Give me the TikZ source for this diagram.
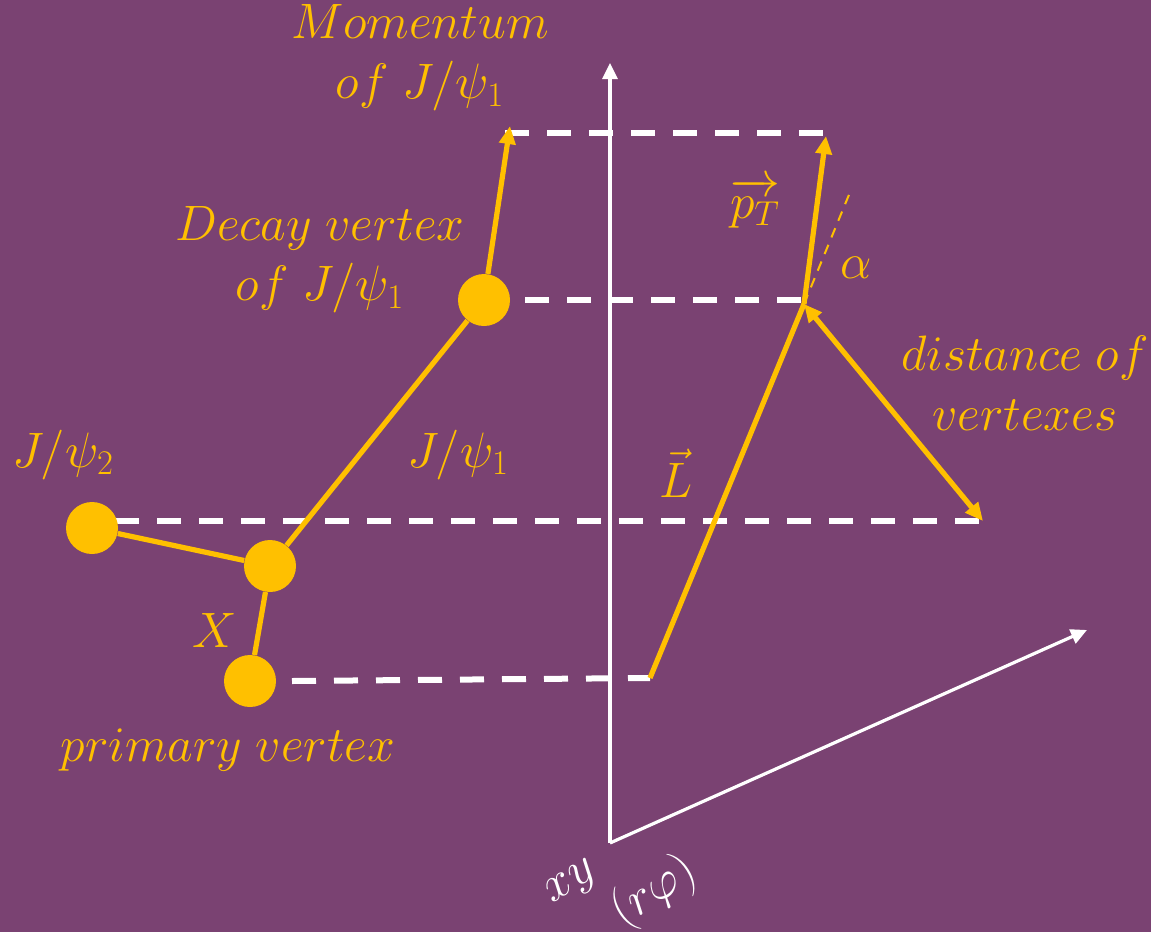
\documentclass[tikz,border=0pt]{standalone}
\usepackage{amsmath}
\usepackage{xcolor}
\definecolor{plum}{HTML}{7A4272}
\definecolor{gold}{HTML}{FFC000}
\usepackage{tikz}
\usetikzlibrary{arrows.meta,positioning,calc}

\begin{document}
\begin{tikzpicture}[x=0.5pt, y=-0.5pt,
  font=\fontsize{23}{30}\selectfont,
  trk/.style={gold, line width=2.6pt},
  arr/.style={trk, -{Triangle[length=9pt, width=8pt]}},
  guide/.style={white, line width=3pt, dash pattern=on 12pt off 9pt},
  axis/.style={white, line width=1.6pt, -{Triangle[length=8pt, width=7.5pt]}},
  dot/.style={circle, fill=gold, inner sep=0pt, minimum size=26pt},
  lab/.style={text=gold, align=center, inner sep=0pt}]
\fill[plum] (0,0) rectangle (1151,932);
\useasboundingbox (0,0) rectangle (1151,932);

% axes
\coordinate (origin) at (610,843);
\coordinate (ytop) at (610,63);
\coordinate (xend) at (1087,630);
\draw[axis] (origin) -- (ytop);
\draw[axis] (origin) -- (xend);
\node[white, rotate=32, inner sep=0pt] (xylab) at (572,884) {$xy$};
\node[white, rotate=32, inner sep=0pt] (rphilab) at (654,892) {$(r\varphi)$};

% projection points
\coordinate (mom) at (510,126);
\coordinate (momL) at (505,133);
\coordinate (momproj) at (826,133);
\coordinate (pTtip) at (826,136);
\coordinate (dvL) at (525,300);
\coordinate (dvproj) at (803,300);
\coordinate (dvtip) at (804,304);
\coordinate (j2L) at (115,521);
\coordinate (dist) at (983,521);
\coordinate (pvL) at (292,681);
\coordinate (pvproj) at (650,678);
\coordinate (Lext) at ($(pvproj)!1.31!(dvtip)$);

% dashed guides
\draw[guide] (momL) -- (momproj);
\draw[guide] (dvL) -- (dvproj);
\draw[guide] (j2L) -- (dist);
\draw[guide] (pvL) -- (pvproj);

% vertices
\node[dot] (j2) at (92,528) {};
\node[dot] (xv) at (270,566) {};
\node[dot] (pv) at (250,681) {};
\node[dot] (dv) at (484,300) {};

% tracks
\draw[trk] (j2) -- (xv);
\draw[trk] (xv) -- (pv);
\draw[trk] (xv) -- (dv);
\draw[arr] (dv) -- (mom);

% transverse plane
\draw[trk] (pvproj) -- (dvtip);
\draw[gold, line width=1pt, dash pattern=on 5pt off 4pt] (dvtip) -- (Lext);
\draw[arr] (dvtip) -- (pTtip);
\draw[trk, {Triangle[length=9pt, width=8pt]}-{Triangle[length=9pt, width=8pt]}] (dvtip) -- (dist);

% labels
\node[lab] (momlab) at (420,58) {$Momentum$\\$of\ J/\psi_1$};
\node[lab] (dvlab) at (320,260) {$Decay\ vertex$\\$of\ J/\psi_1$};
\node[lab] (j2lab) at (63,455) {$J/\psi_2$};
\node[lab] (j1lab) at (458,455) {$J/\psi_1$};
\node[lab] (xlab) at (215,630) {$X$};
\node[lab] (pvlab) at (228,750) {$primary\ vertex$};
\node[lab] (pTlab) at (755,203) {$\overrightarrow{p_T}$};
\node[lab] (alab) at (856,268) {$\alpha$};
\node[lab] (distlab) at (1025,383) {$distance\ of$\\$vertexes$};
\node[lab] (Llab) at (676,473) {$\vec{L}$};
\end{tikzpicture}
\end{document}
